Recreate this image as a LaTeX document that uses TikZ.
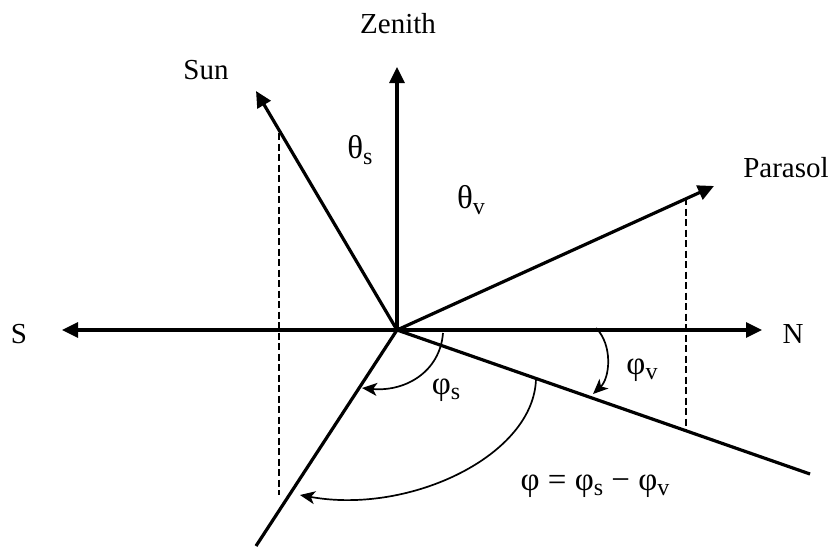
\documentclass[tikz,border=0pt]{standalone}
\usepackage{fontspec}
\setmainfont{Liberation Serif}
\usetikzlibrary{arrows.meta}
\newcommand{\sbs}[1]{\raisebox{-0.35ex}{\fontsize{24}{24}\selectfont #1}}
\begin{document}
\begin{tikzpicture}[x=1pt,y=-1pt,
  axis/.style={line width=3.2pt,-{Triangle[length=16pt,width=15pt]}},
  ray/.style={line width=3.2pt},
  proj/.style={line width=1.4pt,dash pattern=on 7pt off 3.5pt},
  angarc/.style={line width=1.7pt,-{Stealth[length=15pt,width=13pt,inset=4pt]}},
  lbl/.style={font=\fontsize{29}{34}\selectfont,inner sep=0pt},
  glbl/.style={font=\fontsize{33}{38}\selectfont,inner sep=0pt}]
\useasboundingbox (0,0) rectangle (837,546);
% points
\coordinate (O) at (397,330);
\coordinate (Z) at (397,67);
\coordinate (Sun) at (256,91);
\coordinate (Par) at (714,186);
\coordinate (Nt) at (762,330);
\coordinate (St) at (62,330);
\coordinate (LR) at (810,474);
\coordinate (LL) at (256,546);
\coordinate (sdT) at (279,133);
\coordinate (sdB) at (279,495);
\coordinate (pdT) at (686,198);
\coordinate (pdB) at (686,430);
% projections
\draw[proj] (sdT) -- (sdB);
\draw[proj] (pdT) -- (pdB);
% axes and rays
\draw[axis] (O) -- (Z);
\draw[axis] (O) -- (Sun);
\draw[axis] (O) -- (Par);
\draw[axis] (O) -- (Nt);
\draw[axis] (O) -- (St);
\draw[ray] (O) -- (LR);
\draw[ray] (O) -- (LL);
% angle arcs
\coordinate (v1) at (596,328);
\coordinate (v2) at (593,394);
\coordinate (s1) at (443,333);
\coordinate (s2) at (362,388);
\coordinate (p1) at (536,378);
\coordinate (p2) at (300,495);
\draw[angarc] (v1) .. controls (613,345) and (610,378) .. (v2);
\draw[angarc] (s1) .. controls (440,372) and (405,392) .. (s2);
\draw[angarc] (p1) .. controls (535,455) and (410,515) .. (p2);
% labels
\node[lbl] (zen) at (398,24) {Zenith};
\node[lbl] (sunl) at (206,70) {Sun};
\node[lbl] (parl) at (786,168) {Parasol};
\node[lbl] (sl) at (19,334) {S};
\node[lbl] (nl) at (793,334) {N};
\node[glbl] (ths) at (360,150) {θ\sbs{s}};
\node[glbl] (thv) at (471,200) {θ\sbs{v}};
\node[glbl] (phv) at (642,370) {φ\sbs{v}};
\node[glbl] (phs) at (446,390) {φ\sbs{s}};
\node[glbl] (eq) at (595,486) {φ = φ\sbs{s} − φ\sbs{v}};
\end{tikzpicture}
\end{document}
